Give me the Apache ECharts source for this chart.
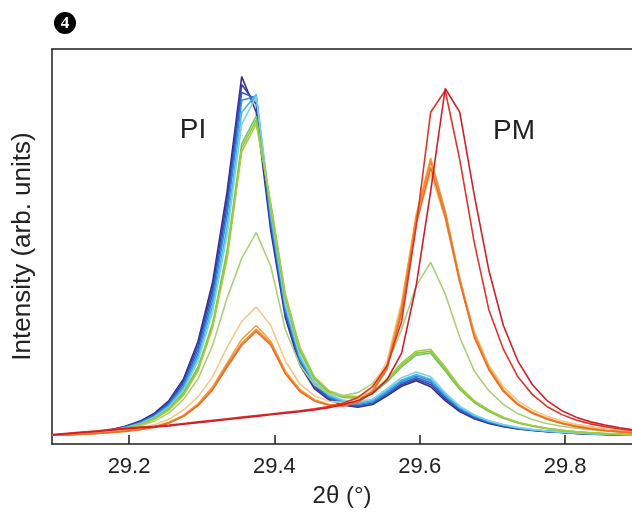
<!DOCTYPE html>
<html>
<head>
<meta charset="utf-8">
<script src="https://cdn.jsdelivr.net/npm/echarts@6/dist/echarts.min.js"></script>
<style>
  html, body { margin: 0; padding: 0; background: #fff; }
  #chart { width: 632px; height: 515px; }
</style>
</head>
<body>
<div id="chart"></div>
<script>
// 2theta sample positions (deg)
var twoTheta = [29.095, 29.115, 29.135, 29.155, 29.175, 29.195, 29.215, 29.235, 29.255, 29.275,
  29.295, 29.315, 29.335, 29.355, 29.375, 29.395, 29.415, 29.435, 29.455, 29.475,
  29.495, 29.515, 29.535, 29.555, 29.575, 29.595, 29.615, 29.635, 29.655, 29.675,
  29.695, 29.715, 29.735, 29.755, 29.775, 29.795, 29.815, 29.835, 29.855, 29.875, 29.895];

var tickValues = [29.2, 29.4, 29.6, 29.8];

// intensities (arb. units, 0-100)
var purple = [2.2, 2.4, 2.7, 3.0, 3.6, 4.5, 5.8, 7.8, 11, 16.5, 26, 41, 64, 93, 84, 54, 32, 20, 14, 11.2,
  9.8, 9.3, 10.0, 12.2, 14.6, 16.0, 14.5, 11.0, 8.2, 6.4, 5.2, 4.4, 3.8, 3.4, 3.1, 2.9, 2.7, 2.5, 2.4, 2.3, 2.2];
var indigo = [2.2, 2.4, 2.7, 3.0, 3.6, 4.4, 5.6, 7.5, 10.6, 16, 25, 39.5, 62, 91, 86, 55, 33, 20.5, 14.5, 11.5,
  10.0, 9.5, 10.2, 12.5, 15.0, 16.4, 15.0, 11.4, 8.5, 6.6, 5.4, 4.5, 3.9, 3.5, 3.2, 2.9, 2.7, 2.5, 2.4, 2.3, 2.2];
var blue = [2.2, 2.4, 2.7, 3.0, 3.5, 4.3, 5.5, 7.3, 10.3, 15.3, 24, 38, 60, 89, 87.5, 56, 33.5, 21, 14.8, 11.7,
  10.2, 9.7, 10.4, 12.7, 15.4, 16.8, 15.5, 11.8, 8.8, 6.8, 5.5, 4.6, 4.0, 3.5, 3.2, 3.0, 2.8, 2.6, 2.4, 2.3, 2.2];
var midBlue = [2.2, 2.4, 2.7, 3.0, 3.5, 4.2, 5.3, 7.1, 10, 14.7, 23, 36.5, 58, 87, 88, 57, 34, 21.5, 15.2, 12,
  10.5, 10.0, 10.7, 13.1, 15.8, 17.2, 16.0, 12.2, 9.0, 7.0, 5.6, 4.7, 4.0, 3.6, 3.3, 3.0, 2.8, 2.6, 2.5, 2.4, 2.3];
var lightBlue = [2.2, 2.4, 2.6, 2.9, 3.4, 4.1, 5.2, 6.9, 9.6, 14.2, 22, 35, 55, 84, 88.5, 58, 35, 22, 15.5, 12.3,
  10.8, 10.3, 11.0, 13.5, 16.2, 17.6, 16.4, 12.5, 9.2, 7.2, 5.8, 4.8, 4.1, 3.6, 3.3, 3.0, 2.8, 2.6, 2.5, 2.4, 2.3];
var cyan = [2.2, 2.4, 2.6, 2.9, 3.4, 4.1, 5.1, 6.8, 9.3, 13.6, 21, 33.5, 53, 81, 88, 59, 35.5, 22.5, 15.8, 12.6,
  11.1, 10.6, 11.4, 14.0, 16.8, 18.2, 17.0, 13.0, 9.6, 7.4, 5.9, 4.9, 4.2, 3.7, 3.3, 3.0, 2.8, 2.6, 2.5, 2.4, 2.3];
var green = [2.2, 2.4, 2.6, 2.9, 3.3, 4.0, 4.9, 6.5, 9.0, 13, 19.5, 30.5, 49, 76, 83, 60, 37, 23.5, 16.5, 13,
  11.8, 11.6, 12.8, 15.7, 19.5, 22.5, 23, 18.5, 13.8, 10.5, 8.2, 6.5, 5.3, 4.5, 3.9, 3.5, 3.1, 2.8, 2.6, 2.5, 2.4];
var yellowGreen = [2.2, 2.4, 2.6, 2.9, 3.3, 3.9, 4.8, 6.4, 8.8, 12.7, 19, 30, 48, 75, 82, 60.5, 37.5, 24, 16.8, 13.2,
  12.0, 11.8, 13.0, 16.1, 20, 23, 23.5, 19, 14.2, 10.8, 8.4, 6.7, 5.4, 4.6, 4.0, 3.5, 3.1, 2.8, 2.6, 2.5, 2.4];
var lime = [2.2, 2.4, 2.6, 2.9, 3.3, 3.9, 4.7, 6.3, 8.6, 12.3, 18.5, 29.5, 47, 74, 81, 61, 38, 24.5, 17, 13.5,
  12.2, 12.0, 13.2, 16.4, 20.5, 23.5, 24, 19.5, 14.5, 11, 8.6, 6.8, 5.5, 4.7, 4.0, 3.5, 3.1, 2.9, 2.7, 2.5, 2.4];
var paleGreen = [2.2, 2.4, 2.6, 2.9, 3.2, 3.7, 4.5, 5.8, 7.9, 11.3, 16.5, 25, 37, 47, 53.5, 45, 29, 20, 15, 12.8,
  12.3, 13, 15.3, 20, 29, 40, 46, 38, 27, 18.5, 13.5, 10, 7.7, 6.2, 5.2, 4.5, 4.0, 3.6, 3.3, 3.0, 2.8];
var paleOrange = [2.2, 2.4, 2.6, 2.8, 3.1, 3.5, 4.0, 4.9, 6.3, 8.6, 12, 17, 24.5, 31, 34.7, 30, 21, 15.2, 12.2, 10.8,
  10.5, 11.5, 14.5, 21, 36, 57, 68.5, 57, 41, 28.5, 20, 14.5, 11, 8.6, 7, 5.9, 5.0, 4.4, 3.9, 3.5, 3.2];
var orange = [2.2, 2.3, 2.5, 2.7, 2.9, 3.3, 3.7, 4.4, 5.5, 7.3, 10.2, 14.5, 20.5, 26.5, 30, 26, 18.5, 13.8, 11.2, 10,
  9.8, 10.8, 13.6, 20, 35, 58, 72.4, 59, 42, 28, 19.5, 13.8, 10.2, 8, 6.5, 5.4, 4.6, 4.0, 3.5, 3.2, 2.9];
var deepOrange = [2.2, 2.3, 2.5, 2.7, 2.9, 3.3, 3.7, 4.3, 5.4, 7.1, 9.9, 14, 20, 25.5, 29, 25.5, 18, 13.5, 11, 9.9,
  9.7, 10.7, 13.4, 19.5, 34, 57, 71.5, 58.5, 41.5, 27.5, 19, 13.5, 10, 7.9, 6.4, 5.3, 4.5, 3.9, 3.4, 3.1, 2.8];
var redOrange = [2.2, 2.3, 2.5, 2.7, 2.9, 3.2, 3.6, 4.2, 5.3, 7.0, 9.7, 13.7, 19.5, 25, 28.5, 25, 17.8, 13.3, 10.9, 9.8,
  9.6, 10.5, 13.2, 19, 33, 55.5, 70, 57.5, 41, 27, 18.8, 13.3, 9.9, 7.8, 6.3, 5.2, 4.4, 3.8, 3.4, 3.1, 2.8];
var red = [2.4, 2.7, 3.0, 3.3, 3.7, 4.0, 4.3, 4.5, 4.8, 5.2, 5.6, 6.0, 6.4, 6.8, 7.2, 7.6, 8.0, 8.4, 8.9, 9.5,
  10.4, 11.8, 14.5, 19.8, 31, 55, 84, 89.5, 72, 51, 34, 24, 17, 12.5, 9.5, 7.5, 6.1, 5.1, 4.4, 3.8, 3.4];
var crimson = [2.3, 2.6, 2.9, 3.2, 3.5, 3.8, 4.1, 4.3, 4.6, 5.0, 5.4, 5.8, 6.2, 6.6, 7.0, 7.4, 7.8, 8.2, 8.6, 9.2,
  10.0, 11.0, 12.8, 16.3, 23, 40, 64, 90, 84, 63, 44, 30, 21, 15, 11, 8.5, 6.8, 5.6, 4.8, 4.1, 3.6];

var curves = [
  ['#3b2a8e', purple], ['#383fa6', indigo], ['#2c64c2', blue], ['#2d8fd6', midBlue],
  ['#46b5e6', lightBlue], ['#80d0ea', cyan], ['#72c36c', green], ['#8cc63f', yellowGreen],
  ['#a4cd3c', lime], ['#abd07a', paleGreen], ['#f7c886', paleOrange], ['#f4a23c', orange],
  ['#ef892f', deepOrange], ['#e8702b', redOrange], ['#e0332b', red], ['#d11d2a', crimson]
];

var font = 'Liberation Sans, Arial, sans-serif';
var axisColor = '#1c1c1c';

var chart = echarts.init(document.getElementById('chart'));

var series = curves.map(function (c) {
  return {
    type: 'line',
    data: twoTheta.map(function (x, i) { return [x, c[1][i]]; }),
    showSymbol: false,
    symbol: 'none',
    lineStyle: { color: c[0], width: 1.6 },
    silent: true
  };
});

chart.setOption({
  animation: false,
  backgroundColor: '#fff',
  grid: { left: 52, right: 0, top: 49, bottom: 71, containLabel: false, outerBoundsMode: 'none' },
  xAxis: [{
    type: 'value',
    min: 29.094,
    max: 29.892,
    position: 'bottom',
    axisLine: { lineStyle: { color: axisColor, width: 1.5 } },
    axisTick: { inside: true, length: 9, customValues: tickValues, lineStyle: { color: axisColor, width: 1.5 } },
    axisLabel: {
      customValues: tickValues,
      formatter: function (v) { return v.toFixed(1); },
      fontSize: 22, color: '#222', fontFamily: font, margin: 12
    },
    splitLine: { show: false },
    name: '2θ (°)',
    nameLocation: 'middle',
    nameGap: 40,
    nameTextStyle: { fontSize: 24, color: '#222', fontFamily: font }
  }, {
    type: 'value',
    min: 29.094,
    max: 29.892,
    position: 'top',
    axisLine: { lineStyle: { color: axisColor, width: 1.5 } },
    axisTick: { show: false },
    axisLabel: { show: false },
    splitLine: { show: false }
  }],
  yAxis: {
    type: 'value',
    min: 0,
    max: 100,
    axisLine: { show: true, lineStyle: { color: axisColor, width: 1.5 } },
    axisTick: { show: false },
    axisLabel: { show: false },
    splitLine: { show: false },
    name: 'Intensity (arb. units)',
    nameLocation: 'middle',
    nameGap: 16,
    nameTextStyle: { fontSize: 26, color: '#222', fontFamily: font }
  },
  graphic: [
    { type: 'circle', shape: { cx: 65, cy: 23, r: 11 }, style: { fill: '#000' } },
    { type: 'text', x: 65, y: 24, style: { text: '4', fill: '#fff', font: 'bold 17px Liberation Serif, serif', textAlign: 'center', textVerticalAlign: 'middle' } },
    { type: 'text', x: 193, y: 130, style: { text: 'PI', fill: '#222', font: '28px ' + font, textAlign: 'center', textVerticalAlign: 'middle' } },
    { type: 'text', x: 514, y: 131, style: { text: 'PM', fill: '#222', font: '28px ' + font, textAlign: 'center', textVerticalAlign: 'middle' } }
  ],
  series: series
});
</script>
</body>
</html>
